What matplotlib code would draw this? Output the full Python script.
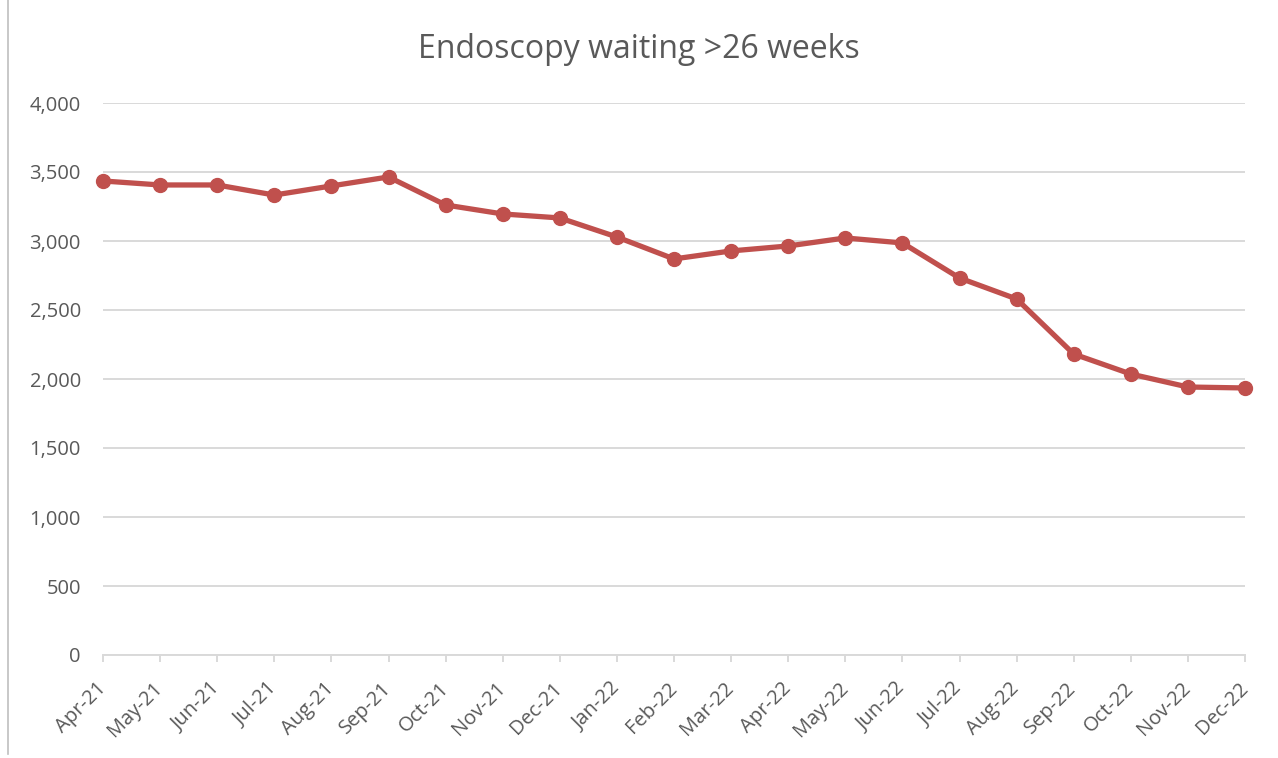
import matplotlib.pyplot as plt
from matplotlib.lines import Line2D

months = ["Apr-21", "May-21", "Jun-21", "Jul-21", "Aug-21", "Sep-21", "Oct-21",
          "Nov-21", "Dec-21", "Jan-22", "Feb-22", "Mar-22", "Apr-22", "May-22",
          "Jun-22", "Jul-22", "Aug-22", "Sep-22", "Oct-22", "Nov-22", "Dec-22"]
waiting = [3435, 3406, 3406, 3333, 3399, 3464, 3261, 3196, 3167, 3029, 2870,
           2928, 2964, 3022, 2986, 2732, 2580, 2181, 2036, 1942, 1935]
y_ticks = [0, 500, 1000, 1500, 2000, 2500, 3000, 3500, 4000]

TEXT = "#595959"
GRID = "#D9D9D9"
RED = "#C0504D"

plt.rcParams["font.family"] = ["Open Sans", "DejaVu Sans"]

fig = plt.figure(figsize=(12.78, 7.58), dpi=100)
ax = fig.add_axes([103 / 1278, 1 - 655 / 758, (1245 - 103) / 1278, (655 - 103) / 758])

x = list(range(len(months)))
ax.plot(x, waiting, color=RED, linewidth=3.8, marker="o", markersize=10,
        solid_joinstyle="round", zorder=3, clip_on=False)

ax.set_xlim(0, len(months) - 1)
ax.set_ylim(0, 4000)
ax.set_yticks(y_ticks)
ax.set_yticklabels([f"{v:,}" for v in y_ticks])
ax.set_xticks(x)
ax.set_xticklabels(months, rotation=45, ha="right", va="center", rotation_mode="anchor")

ax.grid(axis="y", color=GRID, linewidth=1.4)
ax.set_axisbelow(True)
for side in ["top", "right", "left"]:
    ax.spines[side].set_visible(False)
ax.spines["bottom"].set_color(GRID)
ax.spines["bottom"].set_linewidth(1.4)

ax.tick_params(axis="y", length=0, pad=16, labelsize=14.5, labelcolor=TEXT)
ax.tick_params(axis="x", length=5, width=1.4, color=GRID, pad=17, labelsize=14.5, labelcolor=TEXT)

fig.text(0.5, 1 - 49 / 758, "Endoscopy waiting >26 weeks", ha="center", va="center",
         fontsize=23, color=TEXT)

# chart border at left edge
fig.add_artist(Line2D([8 / 1278, 8 / 1278], [0.005, 1], transform=fig.transFigure,
                      color="#BFBFBF", linewidth=1.2))

fig.savefig("out.png", dpi=100)
